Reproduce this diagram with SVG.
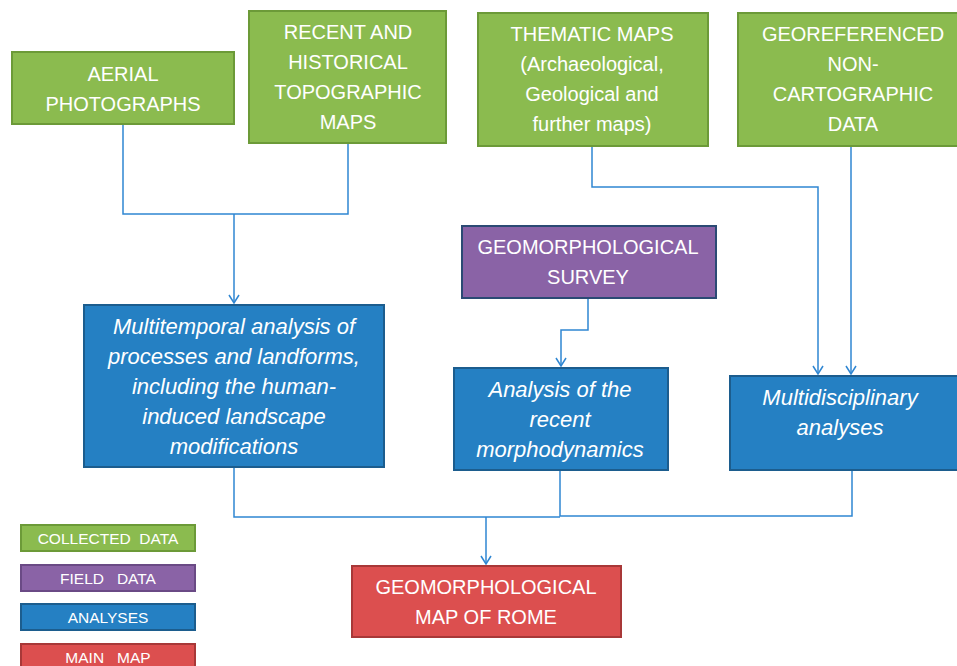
<svg xmlns="http://www.w3.org/2000/svg" width="957" height="666" viewBox="0 0 957 666">
<defs>
<marker id="arr" viewBox="0 0 10 12" refX="9" refY="6" markerWidth="10" markerHeight="12" markerUnits="userSpaceOnUse" orient="auto">
<path d="M1,1 L9,6 L1,11" fill="none" stroke="#2F86D2" stroke-width="1.5"/>
</marker>
<style>
text{font-family:"Liberation Sans",Arial,sans-serif;fill:#fff;text-anchor:middle;font-size:20px}
.it{font-style:italic;font-size:22px}
.lg{font-size:15.5px}
.g{fill:#8BBB4F;stroke:#6C9A38;stroke-width:2}
.p{fill:#8A63A6;stroke:#2B4A74;stroke-width:2}
.b{fill:#2580C3;stroke:#1C5D8E;stroke-width:2}
.r{fill:#DC4F4F;stroke:#A83838;stroke-width:2}
.c{fill:none;stroke:#2F86D2;stroke-width:1.5}
</style>
</defs>
<rect width="957" height="666" fill="#fff"/>
<g id="connectors">
<polyline class="c" points="123,124 123,214 348,214 348,143"/>
<line class="c" x1="234" y1="214" x2="234" y2="303" marker-end="url(#arr)"/>
<polyline class="c" points="592,146 592,187 818,187 818,374" marker-end="url(#arr)"/>
<line class="c" x1="851" y1="146" x2="851" y2="374" marker-end="url(#arr)"/>
<polyline class="c" points="588,298 588,330 561,330 561,366" marker-end="url(#arr)"/>
<polyline class="c" points="234,467 234,517 560,517"/>
<polyline class="c" points="560,470 560,516 852,516 852,470"/>
<line class="c" x1="486" y1="517" x2="486" y2="564" marker-end="url(#arr)"/>
</g>
<g id="aerial">
<rect class="g" x="12" y="52" width="222" height="72"/>
<text x="123" y="81">AERIAL</text>
<text x="123" y="111">PHOTOGRAPHS</text>
</g>
<g id="topographic">
<rect class="g" x="249" y="11" width="197" height="132"/>
<text x="348" y="39">RECENT AND</text>
<text x="348" y="69">HISTORICAL</text>
<text x="348" y="99">TOPOGRAPHIC</text>
<text x="348" y="129">MAPS</text>
</g>
<g id="thematic">
<rect class="g" x="478" y="13" width="230" height="133"/>
<text x="592" y="41">THEMATIC MAPS</text>
<text x="592" y="71">(Archaeological,</text>
<text x="592" y="101">Geological and</text>
<text x="592" y="131">further maps)</text>
</g>
<g id="georef">
<rect class="g" x="738" y="13" width="230" height="133"/>
<text x="853" y="41">GEOREFERENCED</text>
<text x="853" y="71">NON-</text>
<text x="853" y="101">CARTOGRAPHIC</text>
<text x="853" y="131">DATA</text>
</g>
<g id="survey">
<rect class="p" x="462" y="226" width="254" height="72"/>
<text x="588" y="254">GEOMORPHOLOGICAL</text>
<text x="588" y="284">SURVEY</text>
</g>
<g id="multitemporal">
<rect class="b" x="84" y="305" width="300" height="162"/>
<text class="it" x="234" y="334">Multitemporal analysis of</text>
<text class="it" x="234" y="364">processes and landforms,</text>
<text class="it" x="234" y="394">including the human-</text>
<text class="it" x="234" y="424">induced landscape</text>
<text class="it" x="234" y="454">modifications</text>
</g>
<g id="recent">
<rect class="b" x="454" y="368" width="214" height="102"/>
<text class="it" x="560" y="397">Analysis of the</text>
<text class="it" x="560" y="427">recent</text>
<text class="it" x="560" y="457">morphodynamics</text>
</g>
<g id="multidisciplinary">
<rect class="b" x="730" y="376" width="240" height="94"/>
<text class="it" x="840" y="405">Multidisciplinary</text>
<text class="it" x="840" y="435">analyses</text>
</g>
<g id="mainmap">
<rect class="r" x="352" y="566" width="269" height="71"/>
<text x="486" y="594">GEOMORPHOLOGICAL</text>
<text x="486" y="624">MAP OF ROME</text>
</g>
<g id="legend-collected">
<rect class="g" x="21" y="525" width="174" height="26"/>
<text class="lg" x="108" y="544" xml:space="preserve">COLLECTED  DATA</text>
</g>
<g id="legend-field">
<rect class="p" x="21" y="565" width="174" height="26" style="stroke:#6A4A85"/>
<text class="lg" x="108" y="584" xml:space="preserve">FIELD   DATA</text>
</g>
<g id="legend-analyses">
<rect class="b" x="21" y="604" width="174" height="26"/>
<text class="lg" x="108" y="623">ANALYSES</text>
</g>
<g id="legend-main">
<rect class="r" x="21" y="644" width="174" height="26"/>
<text class="lg" x="108" y="663" xml:space="preserve">MAIN   MAP</text>
</g>
</svg>
